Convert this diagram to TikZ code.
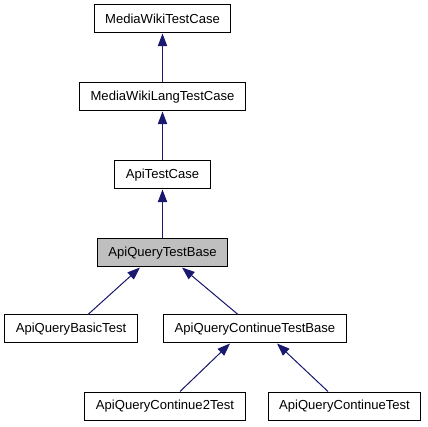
\documentclass[tikz,border=0pt]{standalone}
\usepackage{fontspec}
\setmainfont{Liberation Sans}
\usetikzlibrary{arrows.meta,positioning,calc}
\definecolor{edgeBlue}{HTML}{191970}
\definecolor{classGray}{HTML}{BFBFBF}

\begin{document}
\begin{tikzpicture}[
        x=0.75pt, y=-0.75pt,
        node distance=36.75pt,
        classNode/.style={
            draw=black,
            line width=0.75pt,
            fill=white,
            minimum height=21pt,
            inner xsep=8.25pt,
            inner ysep=0pt,
            font=\fontsize{9.8}{11}\selectfont
        },
        inherit/.style={
            -{Triangle[length=9.5pt,width=7pt]},
            line width=0.75pt,
            draw=edgeBlue,
            fill=edgeBlue
        }
    ]

        \useasboundingbox (0,0) rectangle (428,427);

        % Base class chain
        \node[classNode] at (162.5,19) (mwTest) {MediaWikiTestCase};
        \node[classNode, below=of mwTest] (mwLang) {MediaWikiLangTestCase};
        \node[classNode, below=of mwLang] (apiTest) {ApiTestCase};
        \node[classNode, fill=classGray, below=of apiTest] (queryBase) {ApiQueryTestBase};

        % Derived classes
        \node[classNode] at (71,329) (basic) {ApiQueryBasicTest};
        \node[classNode] at (255,329) (contBase) {ApiQueryContinueTestBase};
        \node[classNode] at (165,406) (cont2) {ApiQueryContinue2Test};
        \node[classNode] at (344.5,406) (cont) {ApiQueryContinueTest};

        % Inheritance arrows
        \draw[inherit] (mwLang) -- (mwTest);
        \draw[inherit] (apiTest) -- (mwLang);
        \draw[inherit] (queryBase) -- (apiTest);

        \draw[inherit]
            ($(basic.north)+(17,0)$)
            --
            ($(queryBase.south)+(-22.5,0)$);
        \draw[inherit]
            ($(contBase.north)+(-17,0)$)
            --
            ($(queryBase.south)+(19.5,0)$);

        \draw[inherit]
            ($(cont2.north)+(15,0)$)
            --
            ($(contBase.south)+(-25,0)$);
        \draw[inherit]
            ($(cont.north)+(-16.5,0)$)
            --
            ($(contBase.south)+(22,0)$);

    \end{tikzpicture}
\end{document}
